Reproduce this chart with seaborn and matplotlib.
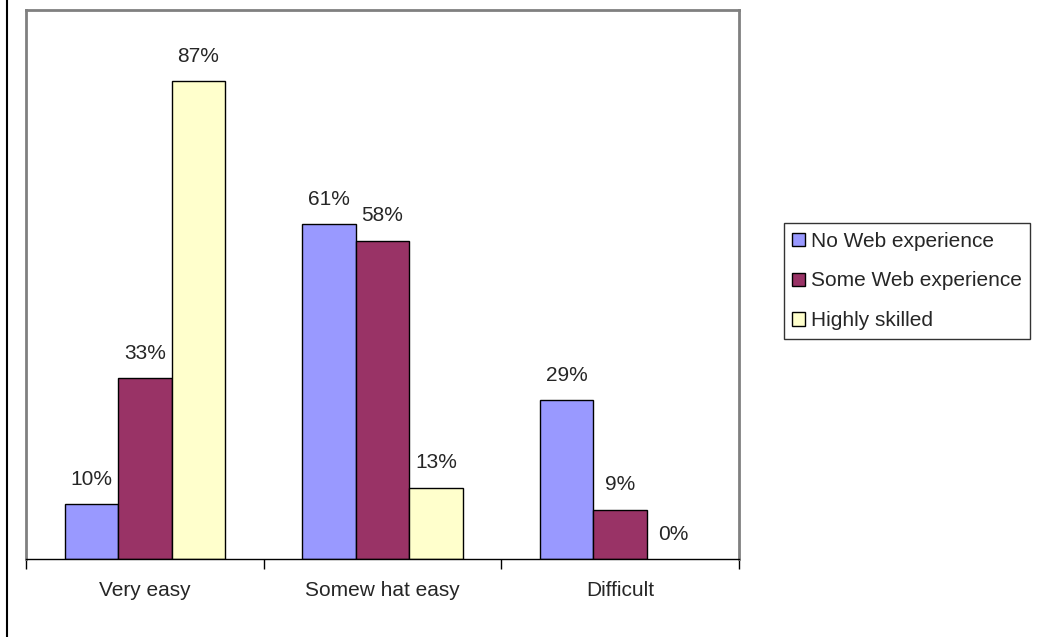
import pandas as pd
import matplotlib.pyplot as plt
import seaborn as sns
from matplotlib.lines import Line2D

# Survey results: how easy was the task, by experience level
categories = ["Very easy", "Somew hat easy", "Difficult"]
groups = ["No Web experience", "Some Web experience", "Highly skilled"]
no_web = [10, 61, 29]
some_web = [33, 58, 9]
skilled = [87, 13, 0]

colors = ["#9999FF", "#993366", "#FFFFCC"]


def build_frame():
    rows = []
    for grp, vals in zip(groups, [no_web, some_web, skilled]):
        for cat, v in zip(categories, vals):
            rows.append({"category": cat, "group": grp, "value": v})
    return pd.DataFrame(rows)


def main():
    sns.set_style("white")
    plt.rcParams["font.family"] = ["Liberation Sans", "DejaVu Sans"]

    df = build_frame()
    fig = plt.figure(figsize=(10.45, 6.37), dpi=100)
    ax = fig.add_axes([26 / 1045, 78 / 637, 713 / 1045, 549 / 637])

    sns.barplot(data=df, x="category", y="value", hue="group",
                order=categories, hue_order=groups, palette=colors,
                width=0.675, edgecolor="black", linewidth=1,
                saturation=1, ax=ax, legend=False)

    # value labels above each bar
    for container in ax.containers:
        for bar in container:
            h = bar.get_height()
            ax.annotate(f"{h:.0f}%", (bar.get_x() + bar.get_width() / 2, h),
                        xytext=(0, 11), textcoords="offset points",
                        ha="center", va="bottom", fontsize=15)
            if h == 0:
                bar.set_linewidth(0)

    ax.set_xlim(-0.5, 2.5)
    ax.set_ylim(0, 100)
    ax.set_xlabel("")
    ax.set_ylabel("")
    ax.set_yticks([])

    ax.set_xticks(range(len(categories)))
    ax.set_xticklabels(categories, fontsize=15)
    ax.set_xticks([-0.5, 0.5, 1.5, 2.5], minor=True)
    ax.tick_params(axis="x", which="major", length=0, pad=16)
    ax.tick_params(axis="x", which="minor", length=7, width=1,
                   direction="out", color="black", bottom=True)

    for side in ["left", "top", "right"]:
        ax.spines[side].set_color("#808080")
        ax.spines[side].set_linewidth(2)
    ax.spines["bottom"].set_color("black")
    ax.spines["bottom"].set_linewidth(1)

    handles = [plt.Rectangle((0, 0), 1, 1, facecolor=c, edgecolor="black", linewidth=1)
               for c in colors]
    leg = fig.legend(handles, groups, loc="center left",
                     bbox_to_anchor=(784 / 1045, 1 - 281 / 637),
                     fontsize=15, frameon=True, fancybox=False,
                     handlelength=0.6, handleheight=0.6, handletextpad=0.3,
                     labelspacing=1.0, borderpad=0.4, borderaxespad=0)
    leg.get_frame().set_edgecolor("black")
    leg.get_frame().set_linewidth(1)

    # left edge of the chart border
    fig.add_artist(Line2D([7 / 1045, 7 / 1045], [0, 1], color="black", linewidth=1.5))

    fig.savefig("out.png", dpi=100)


if __name__ == "__main__":
    main()
